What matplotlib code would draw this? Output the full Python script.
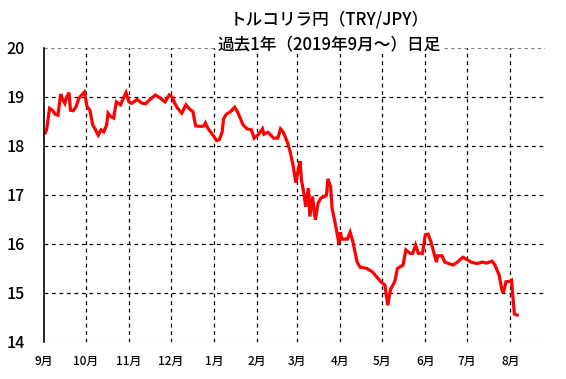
import matplotlib
matplotlib.use("Agg")
import matplotlib.pyplot as plt
import numpy as np
from datetime import date

plt.rcParams['font.family'] = ['Noto Sans CJK JP', 'DejaVu Sans']

# daily TRY/JPY close
dates = [
    "2019-09-02", "2019-09-03", "2019-09-05", "2019-09-07", "2019-09-09", "2019-09-11",
    "2019-09-13", "2019-09-14", "2019-09-16", "2019-09-17", "2019-09-19", "2019-09-20",
    "2019-09-22", "2019-09-24", "2019-09-26", "2019-09-28", "2019-09-30",
    "2019-10-02", "2019-10-04", "2019-10-06", "2019-10-08", "2019-10-10", "2019-10-12",
    "2019-10-14", "2019-10-16", "2019-10-17", "2019-10-19", "2019-10-21", "2019-10-23",
    "2019-10-26", "2019-10-28", "2019-10-30",
    "2019-11-01", "2019-11-03", "2019-11-07", "2019-11-10", "2019-11-13", "2019-11-15",
    "2019-11-20", "2019-11-24", "2019-11-27", "2019-11-30",
    "2019-12-02", "2019-12-04", "2019-12-06", "2019-12-09", "2019-12-12", "2019-12-14",
    "2019-12-17", "2019-12-19", "2019-12-23", "2019-12-25", "2019-12-26", "2019-12-28",
    "2019-12-31",
    "2020-01-03", "2020-01-05", "2020-01-07", "2020-01-08", "2020-01-10", "2020-01-13",
    "2020-01-16", "2020-01-18", "2020-01-20", "2020-01-22", "2020-01-25", "2020-01-28",
    "2020-01-30",
    "2020-02-02", "2020-02-05", "2020-02-06", "2020-02-09", "2020-02-13", "2020-02-16",
    "2020-02-18", "2020-02-20", "2020-02-23", "2020-02-25", "2020-02-27", "2020-02-29",
    "2020-03-02", "2020-03-03", "2020-03-04", "2020-03-06", "2020-03-07", "2020-03-09",
    "2020-03-10", "2020-03-12", "2020-03-13", "2020-03-14", "2020-03-16", "2020-03-18",
    "2020-03-20", "2020-03-22", "2020-03-23", "2020-03-25", "2020-03-26", "2020-03-28",
    "2020-03-31",
    "2020-04-01", "2020-04-02", "2020-04-06", "2020-04-08", "2020-04-10", "2020-04-13",
    "2020-04-15", "2020-04-20", "2020-04-24", "2020-04-27", "2020-04-30",
    "2020-05-03", "2020-05-05", "2020-05-07", "2020-05-10", "2020-05-12", "2020-05-16",
    "2020-05-18", "2020-05-21", "2020-05-23", "2020-05-25", "2020-05-27", "2020-05-30",
    "2020-06-01", "2020-06-03", "2020-06-05", "2020-06-07", "2020-06-09", "2020-06-10",
    "2020-06-13", "2020-06-15", "2020-06-18", "2020-06-21", "2020-06-24", "2020-06-28",
    "2020-07-01", "2020-07-04", "2020-07-08", "2020-07-12", "2020-07-15", "2020-07-19",
    "2020-07-21", "2020-07-24", "2020-07-26", "2020-07-27", "2020-07-29",
    "2020-08-01", "2020-08-02", "2020-08-03", "2020-08-04", "2020-08-06",
]
rates = [
    18.27, 18.35, 18.77, 18.73, 18.65, 18.63,
    19.06, 18.97, 18.87, 18.98, 19.09, 18.73,
    18.72, 18.80, 18.97, 19.04, 19.10,
    18.80, 18.73, 18.43, 18.33, 18.22, 18.33,
    18.29, 18.43, 18.67, 18.60, 18.57, 18.90,
    18.84, 18.97, 19.09,
    18.90, 18.87, 18.95, 18.88, 18.86, 18.92,
    19.04, 18.97, 18.90, 19.04,
    19.00, 18.87, 18.77, 18.67, 18.84, 18.77,
    18.70, 18.41, 18.40, 18.41, 18.47, 18.35,
    18.24,
    18.11, 18.13, 18.28, 18.55, 18.65, 18.70,
    18.79, 18.70, 18.57, 18.43, 18.35, 18.33,
    18.16,
    18.23, 18.35, 18.24, 18.28, 18.16, 18.16,
    18.35, 18.28, 18.07, 17.87, 17.60, 17.25,
    17.56, 17.69, 17.31, 16.99, 16.76, 17.14,
    16.56, 16.97, 16.70, 16.50, 16.84, 16.94,
    16.96, 17.00, 17.33, 17.16, 16.73, 16.46,
    16.00,
    16.24, 16.10, 16.10, 16.24, 16.04, 15.63,
    15.53, 15.50, 15.43, 15.33, 15.23,
    15.16, 14.75, 15.07, 15.23, 15.50, 15.57,
    15.88, 15.81, 15.81, 15.98, 15.81, 15.81,
    16.19, 16.20, 16.05, 15.84, 15.63, 15.76,
    15.76, 15.63, 15.60, 15.57, 15.63, 15.73,
    15.68, 15.63, 15.60, 15.63, 15.61, 15.65,
    15.57, 15.37, 15.07, 15.00, 15.23,
    15.24, 15.26, 14.90, 14.57, 14.55,
]

month_starts = ["2019-09-01", "2019-10-01", "2019-11-01", "2019-12-01", "2020-01-01",
                "2020-02-01", "2020-03-01", "2020-04-01", "2020-05-01", "2020-06-01",
                "2020-07-01", "2020-08-01"]
month_labels = ["9月", "10月", "11月", "12月", "1月", "2月", "3月", "4月", "5月",
                "6月", "7月", "8月"]
y_ticks = [14, 15, 16, 17, 18, 19, 20]

start = date(2019, 9, 1)
def days(s):
    return (date.fromisoformat(s) - start).days

x = np.array([days(d) for d in dates])
xt = [days(d) for d in month_starts]

fig = plt.figure(figsize=(5.66, 3.79), dpi=100)
ax = fig.add_axes([44 / 566, 1 - 342 / 379, 501 / 566, 294 / 379])

ax.plot(x, rates, color='#ff0000', lw=2.3, solid_joinstyle='miter')

ax.set_xlim(0, 360)
ax.set_ylim(14, 20)
ax.set_xticks(xt)
ax.set_xticklabels(month_labels, fontsize=8.5, fontweight='medium')
ax.set_yticks(y_ticks)
ax.set_yticklabels([str(v) for v in y_ticks], fontsize=11.5, fontweight='medium')
ax.tick_params(axis='x', length=0, pad=9)
ax.tick_params(axis='y', length=0, pad=14)

for v in y_ticks[1:-1]:
    ax.axhline(v, color='black', ls=(0, (3, 3)), lw=0.9, zorder=0)
for v in (14, 20):
    ax.axhline(v, color='gray', ls=(0, (3, 3)), lw=0.8, zorder=0)
for v in xt[1:]:
    ax.axvline(v, color='black', ls=(0, (3, 3)), lw=0.9, zorder=0)

for s in ('top', 'right', 'bottom'):
    ax.spines[s].set_visible(False)
ax.spines['left'].set_color('black')
ax.spines['left'].set_linewidth(1.2)

fig.text(329 / 566, 1 - 20 / 379, "トルコリラ円（TRY/JPY）", ha='center', va='center',
         fontsize=12, fontweight='medium')
fig.text(329 / 566, 1 - 44 / 379, "過去1年（2019年9月～）日足", ha='center', va='center',
         fontsize=12, fontweight='medium',
         bbox=dict(facecolor='white', edgecolor='none', pad=1))

fig.savefig("out.png", dpi=100)
